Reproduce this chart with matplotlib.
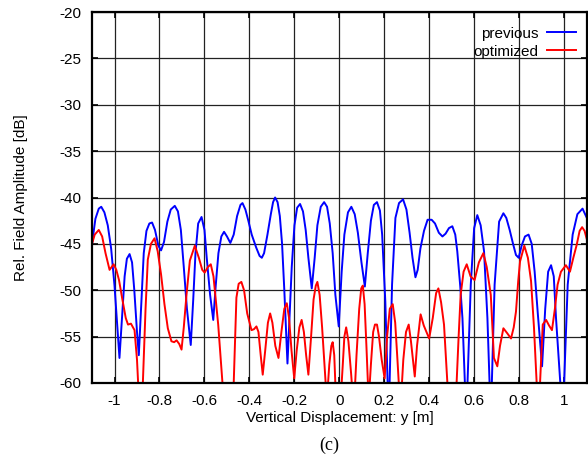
import matplotlib
matplotlib.use("Agg")
from matplotlib import pyplot as plt

# previous design (blue)
prev_x = [-1.100, -1.085, -1.070, -1.059, -1.045, -1.030, -1.015, -1.000, -0.990, -0.978,
          -0.968, -0.955, -0.945, -0.933, -0.922, -0.912, -0.900, -0.892, -0.882, -0.870,
          -0.858, -0.845, -0.833, -0.820, -0.805, -0.793, -0.780, -0.765, -0.750, -0.732,
          -0.718, -0.705, -0.692, -0.678, -0.661, -0.650, -0.640, -0.628, -0.613, -0.600,
          -0.590, -0.575, -0.561, -0.550, -0.538, -0.525, -0.513, -0.500, -0.485, -0.470,
          -0.455, -0.440, -0.431, -0.418, -0.405, -0.390, -0.370, -0.355, -0.345, -0.335,
          -0.320, -0.305, -0.295, -0.286, -0.275, -0.265, -0.255, -0.245, -0.238, -0.231,
          -0.222, -0.212, -0.200, -0.188, -0.175, -0.162, -0.150, -0.138, -0.123, -0.110,
          -0.098, -0.083, -0.068, -0.055, -0.043, -0.030, -0.018, -0.003, 0.010, 0.022,
          0.038, 0.053, 0.068, 0.082, 0.098, 0.113, 0.126, 0.140, 0.153, 0.167,
          0.180, 0.190, 0.204, 0.219, 0.234, 0.249, 0.265, 0.283, 0.298, 0.312,
          0.325, 0.338, 0.348, 0.360, 0.376, 0.392, 0.410, 0.425, 0.442, 0.458,
          0.472, 0.487, 0.502, 0.515, 0.524, 0.537, 0.547, 0.564, 0.584, 0.599,
          0.613, 0.628, 0.643, 0.658, 0.673, 0.690, 0.710, 0.729, 0.742, 0.757,
          0.772, 0.785, 0.797, 0.810, 0.825, 0.841, 0.855, 0.868, 0.882, 0.901,
          0.915, 0.928, 0.941, 0.953, 0.963, 0.993, 1.015, 1.037, 1.058, 1.081,
          1.100]
prev_db = [-45.0, -42.3, -41.2, -41.0, -41.6, -43.0, -45.5, -49.5, -53.0, -57.3,
           -53.5, -48.5, -46.6, -46.1, -47.0, -50.0, -54.5, -57.0, -52.0, -46.0,
           -43.6, -42.8, -42.7, -43.5, -45.2, -45.7, -44.8, -42.6, -41.3, -40.9,
           -41.5, -43.5, -47.5, -52.0, -55.9, -51.0, -46.0, -42.8, -42.1, -43.5,
           -46.5, -50.5, -53.2, -49.5, -46.0, -44.2, -43.7, -44.2, -44.9, -44.0,
           -42.0, -40.8, -40.6, -41.3, -42.5, -44.0, -45.4, -46.3, -46.5, -46.0,
           -44.0, -41.8, -40.5, -40.0, -40.5, -42.0, -45.0, -50.0, -54.0, -57.9,
           -53.0, -47.5, -43.0, -41.1, -40.7, -41.5, -43.5, -46.5, -49.8, -46.5,
           -43.0, -41.0, -40.5, -41.0, -42.8, -46.0, -50.5, -53.9, -48.0, -44.0,
           -41.6, -41.0, -41.8, -43.8, -47.0, -49.6, -46.0, -42.5, -40.8, -40.5,
           -41.4, -44.0, -51.2, -64.0, -49.4, -42.2, -40.6, -40.2, -41.3, -43.8,
           -46.5, -48.6, -47.8, -45.5, -43.6, -42.4, -42.4, -42.8, -43.8, -44.2,
           -43.9, -43.3, -43.1, -44.0, -45.8, -49.5, -53.0, -64.0, -49.4, -43.3,
           -41.9, -43.0, -45.8, -53.0, -64.0, -49.4, -42.6, -41.7, -42.2, -43.5,
           -45.0, -46.2, -46.5, -45.2, -44.2, -44.0, -45.0, -48.0, -52.5, -58.2,
           -52.0, -48.0, -47.3, -48.5, -53.0, -64.0, -49.4, -44.0, -41.8, -41.2,
           -42.2]

# optimized design (red)
opt_x = [-1.100, -1.088, -1.070, -1.055, -1.040, -1.022, -1.004, -0.992, -0.980, -0.965,
         -0.950, -0.940, -0.927, -0.911, -0.900, -0.883, -0.870, -0.862, -0.852, -0.838,
         -0.822, -0.808, -0.793, -0.778, -0.763, -0.747, -0.735, -0.724, -0.712, -0.702,
         -0.692, -0.680, -0.665, -0.643, -0.625, -0.610, -0.599, -0.585, -0.572, -0.560,
         -0.550, -0.539, -0.520, -0.495, -0.470, -0.458, -0.448, -0.436, -0.424, -0.410,
         -0.391, -0.380, -0.369, -0.360, -0.350, -0.341, -0.330, -0.318, -0.308, -0.298,
         -0.285, -0.271, -0.258, -0.245, -0.234, -0.224, -0.213, -0.201, -0.190, -0.178,
         -0.168, -0.158, -0.148, -0.138, -0.126, -0.115, -0.105, -0.098, -0.088, -0.077,
         -0.065, -0.056, -0.045, -0.036, -0.030, -0.023, -0.015, 0.000, 0.015, 0.022,
         0.030, 0.040, 0.052, 0.064, 0.076, 0.088, 0.097, 0.104, 0.112, 0.120,
         0.130, 0.140, 0.150, 0.158, 0.167, 0.176, 0.188, 0.201, 0.212, 0.224,
         0.237, 0.248, 0.258, 0.271, 0.284, 0.296, 0.308, 0.318, 0.335, 0.345,
         0.361, 0.375, 0.399, 0.415, 0.430, 0.440, 0.452, 0.465, 0.480, 0.502,
         0.521, 0.530, 0.539, 0.552, 0.566, 0.583, 0.601, 0.620, 0.640, 0.655,
         0.673, 0.687, 0.702, 0.714, 0.729, 0.745, 0.763, 0.775, 0.785, 0.795,
         0.803, 0.822, 0.838, 0.852, 0.865, 0.877, 0.885, 0.892, 0.904, 0.919,
         0.932, 0.945, 0.958, 0.970, 0.985, 1.007, 1.025, 1.040, 1.055, 1.068,
         1.079, 1.090, 1.100]
opt_db = [-45.0, -44.0, -43.5, -44.2, -46.0, -47.8, -47.2, -47.8, -48.9, -51.0,
          -53.0, -53.7, -53.6, -54.3, -57.5, -66.0, -57.5, -52.0, -46.7, -45.0,
          -44.4, -45.8, -48.3, -51.5, -54.1, -55.5, -55.6, -55.4, -55.8, -56.4,
          -54.0, -50.5, -46.8, -45.2, -46.5, -47.8, -48.1, -47.5, -47.2, -48.5,
          -51.0, -53.7, -60.0, -68.0, -60.0, -50.8, -49.3, -49.1, -50.0, -52.5,
          -54.3, -54.2, -53.9, -54.5, -57.0, -59.1, -56.5, -53.5, -52.5, -53.5,
          -56.0, -57.3, -54.5, -52.0, -51.4, -53.0, -56.5, -59.5, -56.5, -54.0,
          -53.2, -54.5, -57.0, -59.1, -55.0, -51.0, -49.5, -49.1, -50.5, -54.0,
          -58.5, -62.0, -58.0, -56.0, -55.6, -57.0, -62.0, -64.0, -58.0, -55.0,
          -54.0, -55.5, -59.0, -63.0, -57.0, -52.0, -49.8, -49.5, -51.5, -56.0,
          -62.0, -58.0, -54.5, -53.7, -53.7, -55.0, -57.5, -59.5, -55.0, -52.0,
          -51.5, -53.5, -57.5, -63.0, -57.5, -54.5, -53.7, -55.5, -59.3, -56.0,
          -52.6, -53.8, -55.2, -53.0, -50.3, -49.8, -51.3, -53.7, -60.0, -68.0,
          -60.0, -55.0, -50.5, -48.0, -47.2, -48.5, -48.9, -47.0, -46.0, -47.5,
          -50.5, -57.3, -58.2, -56.0, -54.1, -54.6, -55.2, -54.0, -52.3, -49.0,
          -46.9, -45.2, -46.5, -49.0, -54.0, -60.0, -66.0, -60.0, -53.7, -53.2,
          -53.8, -54.3, -52.0, -49.4, -48.0, -47.3, -48.0, -46.5, -45.1, -43.6,
          -43.2, -43.6, -44.5]

x_ticks = [-1, -0.8, -0.6, -0.4, -0.2, 0, 0.2, 0.4, 0.6, 0.8, 1]
y_ticks = [-60, -55, -50, -45, -40, -35, -30, -25, -20]

plt.rcParams['font.family'] = ['Liberation Sans', 'DejaVu Sans']
plt.rcParams['axes.unicode_minus'] = False

fig = plt.figure(figsize=(5.88, 4.62), dpi=100)
ax = fig.add_axes([0.1565, 0.171, 0.8415, 0.803])

ax.plot(prev_x, prev_db, color='#0000ff', lw=1.4, label='previous')
ax.plot(opt_x, opt_db, color='#ff0000', lw=1.4, label='optimized')

ax.set_xlim(-1.1, 1.1)
ax.set_ylim(-60, -20)
ax.set_xticks(x_ticks)
ax.set_xticklabels([f"{t:g}" for t in x_ticks])
ax.set_yticks(y_ticks)
ax.grid(True, color='#222222', lw=0.9)
ax.set_axisbelow(True)
ax.tick_params(direction='in', top=True, right=True, length=4, width=1.2,
               labelsize=11, pad=8)
for s in ax.spines.values():
    s.set_linewidth(1.6)

ax.set_xlabel('Vertical Displacement: y [m]', fontsize=11, labelpad=2)
ax.set_ylabel('Rel. Field Amplitude [dB]', fontsize=11, labelpad=22)

ax.legend(loc='upper right', bbox_to_anchor=(0.997, 0.985), frameon=False,
          markerfirst=False, fontsize=11, handlelength=1.9, handletextpad=0.55,
          labelspacing=0.25, borderaxespad=0.2)

fig.text(0.56, 0.035, '(c)', ha='center', va='center', fontsize=13,
         family='Liberation Serif')

fig.savefig('out.png', dpi=100)
